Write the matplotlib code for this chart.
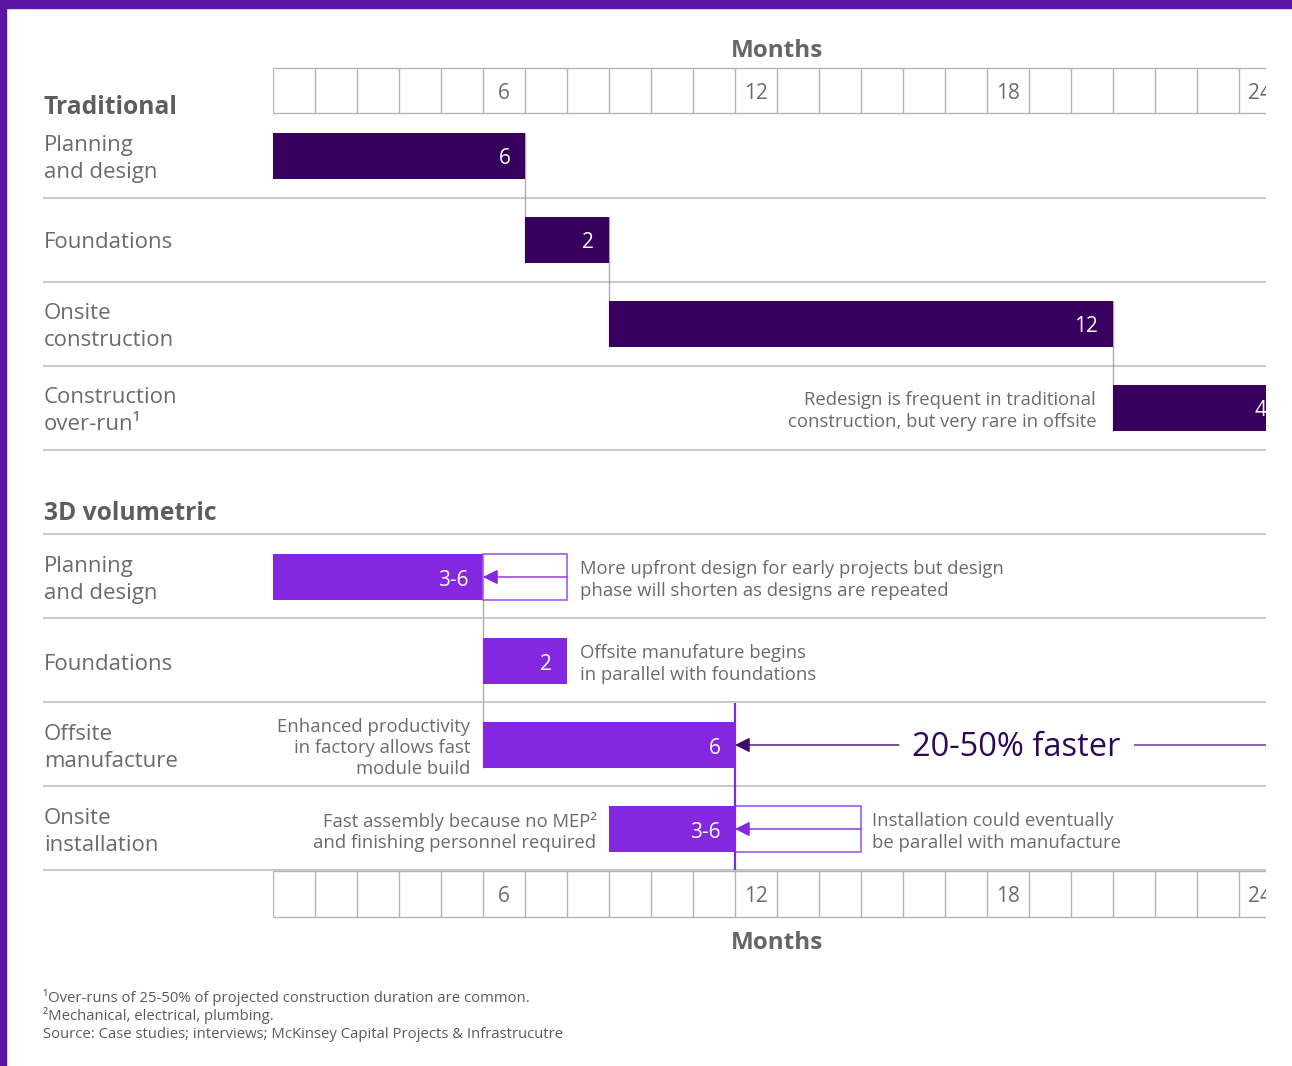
import matplotlib
matplotlib.use("Agg")
import matplotlib.pyplot as plt
from matplotlib.patches import Rectangle
from matplotlib.transforms import blended_transform_factory

plt.rcParams['font.family'] = ['Open Sans', 'DejaVu Sans']

# data
months = list(range(24))
month_labels = {6: "6", 12: "12", 18: "18", 24: "24"}

trad_tasks = ["Planning\nand design", "Foundations", "Onsite\nconstruction", "Construction\nover-run\u00b9"]
trad_start = [0, 6, 8, 20]
trad_dur = [6, 2, 12, 4]
trad_labels = ["6", "2", "12", "4"]

vol_tasks = ["Planning\nand design", "Foundations", "Offsite\nmanufacture", "Onsite\ninstallation"]
vol_start = [0, 5, 5, 8]
vol_dur = [5, 2, 6, 3]
vol_extra = [2, 0, 0, 3]
vol_labels = ["3-6", "2", "6", "3-6"]

footnotes = ["\u00b9Over-runs of 25-50% of projected construction duration are common.",
             "\u00b2Mechanical, electrical, plumbing.",
             "Source: Case studies; interviews; McKinsey Capital Projects & Infrastrucutre"]

DARK = "#37005f"
VIVID = "#8427e0"
OUTLINE = "#a25cec"
GRAY = "#6b6b6b"
LINE = "#bdbdbd"

W, H = 1292, 1066
fig = plt.figure(figsize=(W / 100, H / 100), dpi=100)
x0, x1 = 273, 1266
ax = fig.add_axes([x0 / W, 0, (x1 - x0) / W, 1])
XMAX = (x1 - x0) / 42
ax.set_xlim(0, XMAX)
ax.set_ylim(H, 0)
ax.axis("off")

# left column in figure coords, y in pixel rows
tr = blended_transform_factory(fig.transFigure, ax.transData)
LX = 44 / W
LEFT = (43 - x0) / 42  # left edge of separator lines in months
DY = 3  # text nudge down

# border
fig.patches.append(Rectangle((0, 0), 6 / W, 1, transform=fig.transFigure, color="#5a13a2", zorder=10))
fig.patches.append(Rectangle((0, 1 - 8 / H), 1, 8 / H, transform=fig.transFigure, color="#5a13a2", zorder=10))

TXT = 13.3  # annotation size
LAB = 16  # row label size
TS = 1.25  # annotation line spacing


def month_grid(top, bottom, title_y):
    ax.vlines(months, top, bottom, color="#b5b5b5", lw=1)
    ax.hlines([top, bottom], 0, 24, color="#b5b5b5", lw=1)
    for m, lab in month_labels.items():
        ax.text(m - 0.5, (top + bottom) / 2 + DY, lab, ha="center", va="center",
                fontsize=15, color=GRAY, clip_on=True)
    ax.text(12, title_y + DY, "Months", ha="center", va="center", fontsize=17.5,
            fontweight="bold", color="#666666")


month_grid(68, 113, 48)
month_grid(871, 917, 940)

# Traditional section
ax.text(LX, 105 + DY, "Traditional", transform=tr, ha="left", va="center",
        fontsize=17.7, fontweight="bold", color="#5e5e5e")
trad_y = [156, 240, 324, 408]
for i, (task, s, d, lab) in enumerate(zip(trad_tasks, trad_start, trad_dur, trad_labels)):
    y = trad_y[i]
    ax.barh(y, d, left=s, height=46, color=DARK, zorder=3)
    ax.text(s + d - 0.35, y + DY, lab, ha="right", va="center", fontsize=15, color="white", zorder=4,
            clip_on=True)
    ax.text(LX, y + DY, task, transform=tr, ha="left", va="center", fontsize=LAB,
            color=GRAY, linespacing=1.4)
    ax.hlines(y + 42, LEFT, XMAX, color=LINE, lw=1.2, clip_on=False)
    if i < len(trad_tasks) - 1:
        ax.vlines(s + d, y - 23, trad_y[i + 1] + 23, color="#aaaaaa", lw=1, zorder=2)

ax.text(19.6, trad_y[3] + DY, "Redesign is frequent in traditional\nconstruction, but very rare in offsite",
        ha="right", va="center", fontsize=TXT, color=GRAY, linespacing=TS)

# 3D volumetric section
ax.text(LX, 510 + DY, "3D volumetric", transform=tr, ha="left", va="center",
        fontsize=17.7, fontweight="bold", color="#5e5e5e")
ax.hlines(534, LEFT, XMAX, color=LINE, lw=1.2, clip_on=False)
vol_y = [577, 661, 745, 829]
ax.vlines(vol_start[0] + vol_dur[0], vol_y[0] - 23, vol_y[2] + 23, color="#aaaaaa", lw=1, zorder=2)
for i, (task, s, d, e, lab) in enumerate(zip(vol_tasks, vol_start, vol_dur, vol_extra, vol_labels)):
    y = vol_y[i]
    ax.barh(y, d, left=s, height=46, color=VIVID, zorder=3)
    ax.text(s + d - 0.35, y + DY, lab, ha="right", va="center", fontsize=15, color="white", zorder=4)
    ax.text(LX, y + DY, task, transform=tr, ha="left", va="center", fontsize=LAB,
            color=GRAY, linespacing=1.4)
    ax.hlines(y + 41, LEFT, XMAX, color=LINE, lw=1.2, clip_on=False)
    if e:
        ax.barh(y, e, left=s + d, height=46, facecolor="white", edgecolor=OUTLINE, lw=1.2, zorder=3)
        ax.annotate("", xy=(s + d, y), xytext=(s + d + e, y),
                    arrowprops=dict(arrowstyle="-|>,head_length=0.9,head_width=0.45",
                                    color=VIVID, lw=1, shrinkA=0, shrinkB=0), zorder=5)

# finish line of offsite manufacture
end_mfg = vol_start[2] + vol_dur[2]
ax.vlines(end_mfg, 703, 870, color=VIVID, lw=1.6, zorder=6)

ax.text(7.3, vol_y[0] + DY, "More upfront design for early projects but design\nphase will shorten as designs are repeated",
        ha="left", va="center", fontsize=TXT, color=GRAY, linespacing=TS)
ax.text(7.3, vol_y[1] + DY, "Offsite manufature begins\nin parallel with foundations",
        ha="left", va="center", fontsize=TXT, color=GRAY, linespacing=TS)
ax.text(4.7, vol_y[2] + DY, "Enhanced productivity\nin factory allows fast\nmodule build",
        ha="right", va="center", fontsize=TXT, color=GRAY, linespacing=TS)
ax.text(7.7, vol_y[3] + DY, "Fast assembly because no MEP\u00b2\nand finishing personnel required",
        ha="right", va="center", fontsize=TXT, color=GRAY, linespacing=TS)
ax.text(14.25, vol_y[3] + DY, "Installation could eventually\nbe parallel with manufacture",
        ha="left", va="center", fontsize=TXT, color=GRAY, linespacing=TS)

# 20-50% faster callout
ax.annotate("", xy=(end_mfg, vol_y[2]), xytext=(14.9, vol_y[2]),
            arrowprops=dict(arrowstyle="-|>,head_length=0.9,head_width=0.45",
                            color="#3d0a6b", lw=1, shrinkA=0, shrinkB=0), zorder=5)
ax.text(17.7, vol_y[2] + DY, "20-50% faster", ha="center", va="center", fontsize=23.5, color="#2e0858")
ax.hlines(vol_y[2], 20.5, XMAX, color="#7a4aa6", lw=1.2)

# footnotes
for k, note in enumerate(footnotes):
    ax.text(43 / W, 997 + 18 * k + 1, note, transform=tr, ha="left", va="center",
            fontsize=10.7, color="#5a5a5a")

fig.savefig("out.png", dpi=100, facecolor="white")
